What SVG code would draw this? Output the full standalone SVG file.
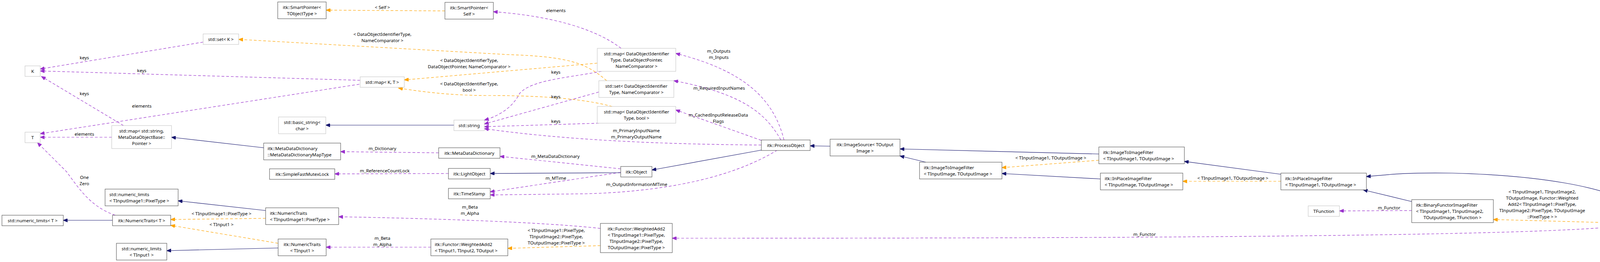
<svg xmlns="http://www.w3.org/2000/svg" width="4648" height="672" viewBox="0 0 4648 672">
<style>
text{font-family:"Noto Sans","DejaVu Sans",sans-serif;font-size:11.5px;fill:#000}
.m{text-anchor:middle}
rect{fill:#fff;stroke-width:1}
.n rect{stroke:#404040}
.g rect{stroke:#bfbfbf}
.h rect{fill:#bfbfbf;stroke:#404040}
path{fill:none;stroke-width:1.2}
.u{stroke:#9a32cd;stroke-dasharray:7,5;marker-end:url(#au)}
.t{stroke:#ffa500;stroke-dasharray:7,5;marker-end:url(#at)}
.i{stroke:#191970;marker-end:url(#ai)}
</style>
<defs>
<marker id="au" markerUnits="userSpaceOnUse" markerWidth="12" markerHeight="9" refX="11" refY="4.5" orient="auto"><path d="M0,0 L11,4.5 L0,9 z" style="fill:#9a32cd;stroke:#9a32cd"/></marker>
<marker id="at" markerUnits="userSpaceOnUse" markerWidth="12" markerHeight="9" refX="11" refY="4.5" orient="auto"><path d="M0,0 L11,4.5 L0,9 z" style="fill:#ffa500;stroke:#ffa500"/></marker>
<marker id="ai" markerUnits="userSpaceOnUse" markerWidth="12" markerHeight="9" refX="11" refY="4.5" orient="auto"><path d="M0,0 L11,4.5 L0,9 z" style="fill:#191970;stroke:#191970"/></marker>
</defs>
<rect x="0" y="0" width="4648" height="672" style="fill:#fff;stroke:none"/>
<g id="edges">
<path class="u" d="M520,108 L103,177"/>
<path class="u" d="M922,206 L103,182"/>
<path class="u" d="M316,322 L106,196"/>
<path class="u" d="M920,216 L103,343"/>
<path class="u" d="M286,352 L103,352"/>
<path class="u" d="M295,552 C230,530 200,480 170,440 C140,410 115,385 96,366"/>
<path class="u" d="M1590,124 C1520,70 1400,40 1263,30"/>
<path class="u" d="M1540,183 C1450,200 1360,205 1330,240 C1310,280 1270,300 1240,308"/>
<path class="u" d="M1533,236 L1240,318"/>
<path class="u" d="M1533,316 L1240,325"/>
<path class="u" d="M1949,372 C1700,370 1450,360 1240,330"/>
<path class="u" d="M1123,392 L872,389"/>
<path class="u" d="M1148,445 L857,446"/>
<path class="u" d="M1589,433 L1280,401"/>
<path class="u" d="M1589,442 L1255,492"/>
<path class="u" d="M1990,385 C1900,440 1750,490 1500,497 L1255,500"/>
<path class="u" d="M2007,359 C1980,250 1900,180 1730,137"/>
<path class="u" d="M1999,359 C1960,290 1900,240 1725,207"/>
<path class="u" d="M1949,360 L1730,282"/>
<path class="u" d="M1537,586 C1400,570 1100,560 867,556"/>
<path class="u" d="M1103,634 L835,634"/>
<path class="u" d="M3614,540 L3429,541"/>
<path class="u" d="M4115,583 C3800,610 2500,611 1721,611"/>
<path class="t" d="M1139,28 L835,26"/>
<path class="t" d="M1553,207 C1500,160 1450,145 1300,140 L611,101"/>
<path class="t" d="M1529,162 L1035,205"/>
<path class="t" d="M1567,273 C1500,255 1400,245 1250,245 C1150,245 1080,235 1020,226"/>
<path class="t" d="M680,560 L437,563"/>
<path class="t" d="M712,624 L437,578"/>
<path class="t" d="M1537,630 L1300,637"/>
<path class="t" d="M2813,411 L2565,430"/>
<path class="t" d="M3279,465 L3028,465"/>
<path class="t" d="M4115,571 L3823,563"/>
<path class="i" d="M675,379 L439,352"/>
<path class="i" d="M680,540 L456,515"/>
<path class="i" d="M288,565 L162,565"/>
<path class="i" d="M712,636 L427,643"/>
<path class="i" d="M1162,321 L834,321"/>
<path class="i" d="M1589,443 L1255,445"/>
<path class="i" d="M1949,385 L1669,436"/>
<path class="i" d="M2125,375 L2074,374"/>
<path class="i" d="M2370,416 L2304,400"/>
<path class="i" d="M2813,395 L2304,382"/>
<path class="i" d="M2817,459 L2565,445"/>
<path class="i" d="M3279,447 L3032,414"/>
<path class="i" d="M3614,517 L3490,487"/>
<path class="i" d="M4177,520 C4100,480 3950,450 3718,444 C3600,442 3550,448 3498,453"/>
<path class="i" d="M4433,565 L4381,565"/>
</g>
<g id="labels">
<text class="m" x="216" y="152">keys</text>
<text class="m" x="363" y="185">keys</text>
<text class="m" x="216" y="244">keys</text>
<text class="m" x="363" y="276">elements</text>
<text class="m" x="216" y="348">elements</text>
<text class="m" x="216" y="459">One</text>
<text class="m" x="216" y="475">Zero</text>
<text class="m" x="979" y="23">&lt; Self &gt;</text>
<text class="m" x="979" y="92">&lt; DataObjectIdentifierType,</text>
<text class="m" x="979" y="108">NameComparator &gt;</text>
<text class="m" x="1201" y="159">&lt; DataObjectIdentifierType,</text>
<text class="m" x="1201" y="175">DataObjectPointer, NameComparator &gt;</text>
<text class="m" x="1201" y="219">&lt; DataObjectIdentifierType,</text>
<text class="m" x="1201" y="235">bool &gt;</text>
<text class="m" x="1423" y="31">elements</text>
<text class="m" x="1423" y="189">keys</text>
<text class="m" x="1423" y="252">keys</text>
<text class="m" x="1423" y="315">keys</text>
<text class="m" x="1629" y="339">m_PrimaryInputName</text>
<text class="m" x="1629" y="355">m_PrimaryOutputName</text>
<text class="m" x="1840" y="135">m_Outputs</text>
<text class="m" x="1840" y="151">m_Inputs</text>
<text class="m" x="1841" y="230">m_RequiredInputNames</text>
<text class="m" x="1839" y="299">m_CachedInputReleaseData</text>
<text class="m" x="1839" y="315">Flags</text>
<text class="m" x="979" y="385">m_Dictionary</text>
<text class="m" x="985" y="442">m_ReferenceCountLock</text>
<text class="m" x="1422" y="405">m_MetaDataDictionary</text>
<text class="m" x="1423" y="461">m_MTime</text>
<text class="m" x="1630" y="477">m_OutputInformationMTime</text>
<text class="m" x="1203" y="535">m_Beta</text>
<text class="m" x="1203" y="551">m_Alpha</text>
<text class="m" x="979" y="615">m_Beta</text>
<text class="m" x="979" y="631">m_Alpha</text>
<text class="m" x="567" y="552">&lt; TInputImage1::PixelType &gt;</text>
<text class="m" x="567" y="580">&lt; TInput1 &gt;</text>
<text class="m" x="1424" y="595">&lt; TInputImage1::PixelType,</text>
<text class="m" x="1424" y="611">TInputImage2::PixelType,</text>
<text class="m" x="1424" y="627">TOutputImage::PixelType &gt;</text>
<text class="m" x="2690" y="409">&lt; TInputImage1, TOutputImage &gt;</text>
<text class="m" x="3156" y="461">&lt; TInputImage1, TOutputImage &gt;</text>
<text class="m" x="3556" y="537">m_Functor</text>
<text class="m" x="2930" y="605">m_Functor</text>
<text class="m" x="3948" y="496">&lt; TInputImage1, TInputImage2,</text>
<text class="m" x="3948" y="512">TOutputImage, Functor::Weighted</text>
<text class="m" x="3948" y="528">Add2&lt; TInputImage1::PixelType,</text>
<text class="m" x="3948" y="544">TInputImage2::PixelType, TOutputImage</text>
<text class="m" x="3948" y="560">::PixelType &gt; &gt;</text>
</g>
<g id="K" class="g"><rect x="64" y="169" width="39" height="27"/><text class="m" x="83.5" y="187">K</text></g>
<g id="T" class="g"><rect x="64" y="339" width="39" height="27"/><text class="m" x="83.5" y="357">T</text></g>
<g id="setK" class="g"><rect x="520" y="87" width="91" height="27"/><text class="m" x="565.5" y="105">std::set&lt; K &gt;</text></g>
<g id="mapStrMeta" class="g"><rect x="286" y="322" width="153" height="59"/><text class="m" x="362.5" y="340">std::map&lt; std::string,</text><text class="m" x="362.5" y="356">MetaDataObjectBase::</text><text class="m" x="362.5" y="372">Pointer &gt;</text></g>
<g id="nlPix" class="n"><rect x="269" y="485" width="187" height="43"/><text x="280" y="503">std::numeric_limits</text><text x="280" y="519">&lt; TInputImage1::PixelType &gt;</text></g>
<g id="nlT" class="n"><rect x="5" y="552" width="157" height="27"/><text class="m" x="83.5" y="570">std::numeric_limits&lt; T &gt;</text></g>
<g id="ntT" class="n"><rect x="288" y="552" width="149" height="27"/><text class="m" x="362.5" y="570">itk::NumericTraits&lt; T &gt;</text></g>
<g id="nlIn1" class="n"><rect x="298" y="624" width="129" height="43"/><text class="m" x="362.5" y="642">std::numeric_limits</text><text class="m" x="362.5" y="658">&lt; TInput1 &gt;</text></g>
<g id="spTO" class="n"><rect x="711" y="5" width="124" height="43"/><text class="m" x="773" y="23">itk::SmartPointer&lt;</text><text class="m" x="773" y="39">TObjectType &gt;</text></g>
<g id="spSelf" class="n"><rect x="1139" y="6" width="124" height="43"/><text class="m" x="1201" y="24">itk::SmartPointer&lt;</text><text class="m" x="1201" y="40">Self &gt;</text></g>
<g id="mapKT" class="g"><rect x="922" y="197" width="113" height="27"/><text class="m" x="978.5" y="215">std::map&lt; K, T &gt;</text></g>
<g id="basicString" class="g"><rect x="713" y="300" width="121" height="43"/><text class="m" x="773.5" y="318">std::basic_string&lt;</text><text class="m" x="773.5" y="334">char &gt;</text></g>
<g id="string" class="g"><rect x="1162" y="308" width="78" height="27"/><text class="m" x="1201" y="326">std::string</text></g>
<g id="mddMap" class="n"><rect x="675" y="367" width="197" height="43"/><text x="685" y="385">itk::MetaDataDictionary</text><text x="685" y="401">::MetaDataDictionaryMapType</text></g>
<g id="mutex" class="n"><rect x="690" y="433" width="167" height="27"/><text class="m" x="773.5" y="451">itk::SimpleFastMutexLock</text></g>
<g id="ntPix" class="n"><rect x="680" y="533" width="187" height="43"/><text x="691" y="551">itk::NumericTraits</text><text x="691" y="567">&lt; TInputImage1::PixelType &gt;</text></g>
<g id="ntIn1" class="n"><rect x="712" y="613" width="123" height="43"/><text class="m" x="773.5" y="631">itk::NumericTraits</text><text class="m" x="773.5" y="647">&lt; TInput1 &gt;</text></g>
<g id="mdd" class="n"><rect x="1123" y="379" width="157" height="27"/><text class="m" x="1201.5" y="397">itk::MetaDataDictionary</text></g>
<g id="lightObject" class="n"><rect x="1148" y="432" width="107" height="27"/><text class="m" x="1201.5" y="450">itk::LightObject</text></g>
<g id="timeStamp" class="n"><rect x="1148" y="483" width="107" height="27"/><text class="m" x="1201.5" y="501">itk::TimeStamp</text></g>
<g id="wa2In1" class="n"><rect x="1103" y="613" width="197" height="43"/><text x="1113" y="631">itk::Functor::WeightedAdd2</text><text x="1113" y="647">&lt; TInput1, TInput2, TOutput &gt;</text></g>
<g id="mapDOP" class="g"><rect x="1529" y="124" width="201" height="59"/><text class="m" x="1629.5" y="142">std::map&lt; DataObjectIdentifier</text><text class="m" x="1629.5" y="158">Type, DataObjectPointer,</text><text class="m" x="1629.5" y="174">NameComparator &gt;</text></g>
<g id="setDOI" class="g"><rect x="1533" y="207" width="192" height="43"/><text class="m" x="1629" y="225">std::set&lt; DataObjectIdentifier</text><text class="m" x="1629" y="241">Type, NameComparator &gt;</text></g>
<g id="mapBool" class="g"><rect x="1529" y="273" width="201" height="43"/><text class="m" x="1629.5" y="291">std::map&lt; DataObjectIdentifier</text><text class="m" x="1629.5" y="307">Type, bool &gt;</text></g>
<g id="object" class="n"><rect x="1589" y="427" width="80" height="27"/><text class="m" x="1629" y="445">itk::Object</text></g>
<g id="wa2Pix" class="n"><rect x="1537" y="573" width="184" height="75"/><text class="m" x="1629" y="591">itk::Functor::WeightedAdd2</text><text class="m" x="1629" y="607">&lt; TInputImage1::PixelType,</text><text class="m" x="1629" y="623">TInputImage2::PixelType,</text><text class="m" x="1629" y="639">TOutputImage::PixelType &gt;</text></g>
<g id="processObject" class="n"><rect x="1949" y="359" width="125" height="27"/><text class="m" x="2011.5" y="377">itk::ProcessObject</text></g>
<g id="imageSource" class="n"><rect x="2125" y="357" width="179" height="43"/><text class="m" x="2214.5" y="375">itk::ImageSource&lt; TOutput</text><text class="m" x="2214.5" y="391">Image &gt;</text></g>
<g id="i2iIn" class="n"><rect x="2354" y="416" width="211" height="43"/><text x="2365" y="434">itk::ImageToImageFilter</text><text x="2365" y="450">&lt; TInputImage, TOutputImage &gt;</text></g>
<g id="i2iIn1" class="n"><rect x="2813" y="377" width="219" height="43"/><text x="2824" y="395">itk::ImageToImageFilter</text><text x="2824" y="411">&lt; TInputImage1, TOutputImage &gt;</text></g>
<g id="ipIn" class="n"><rect x="2817" y="444" width="211" height="43"/><text x="2828" y="462">itk::InPlaceImageFilter</text><text x="2828" y="478">&lt; TInputImage, TOutputImage &gt;</text></g>
<g id="ipIn1" class="n"><rect x="3279" y="444" width="219" height="43"/><text x="3290" y="462">itk::InPlaceImageFilter</text><text x="3290" y="478">&lt; TInputImage1, TOutputImage &gt;</text></g>
<g id="tfunction" class="g"><rect x="3349" y="528" width="80" height="27"/><text class="m" x="3389" y="546">TFunction</text></g>
<g id="bfTF" class="n"><rect x="3614" y="512" width="209" height="59"/><text x="3625" y="530">itk::BinaryFunctorImageFilter</text><text x="3625" y="546">&lt; TInputImage1, TInputImage2,</text><text class="m" x="3718.5" y="562">TOutputImage, TFunction &gt;</text></g>
<g id="bfWA" class="n"><rect x="4115" y="520" width="266" height="91"/><text x="4125" y="538">itk::BinaryFunctorImageFilter</text><text x="4125" y="554">&lt; TInputImage1, TInputImage2,</text><text x="4128" y="570">TOutputImage, Functor::WeightedAdd2</text><text x="4125" y="586">&lt; TInputImage1::PixelType, TInputImage2</text><text x="4130" y="602">::PixelType, TOutputImage::PixelType &gt; &gt;</text></g>
<g id="weightedAdd" class="h"><rect x="4433" y="536" width="209" height="59"/><text x="4443" y="554">itk::WeightedAddImageFilter</text><text x="4443" y="570">&lt; TInputImage1, TInputImage2,</text><text class="m" x="4537.5" y="586">TOutputImage &gt;</text></g>
</svg>
